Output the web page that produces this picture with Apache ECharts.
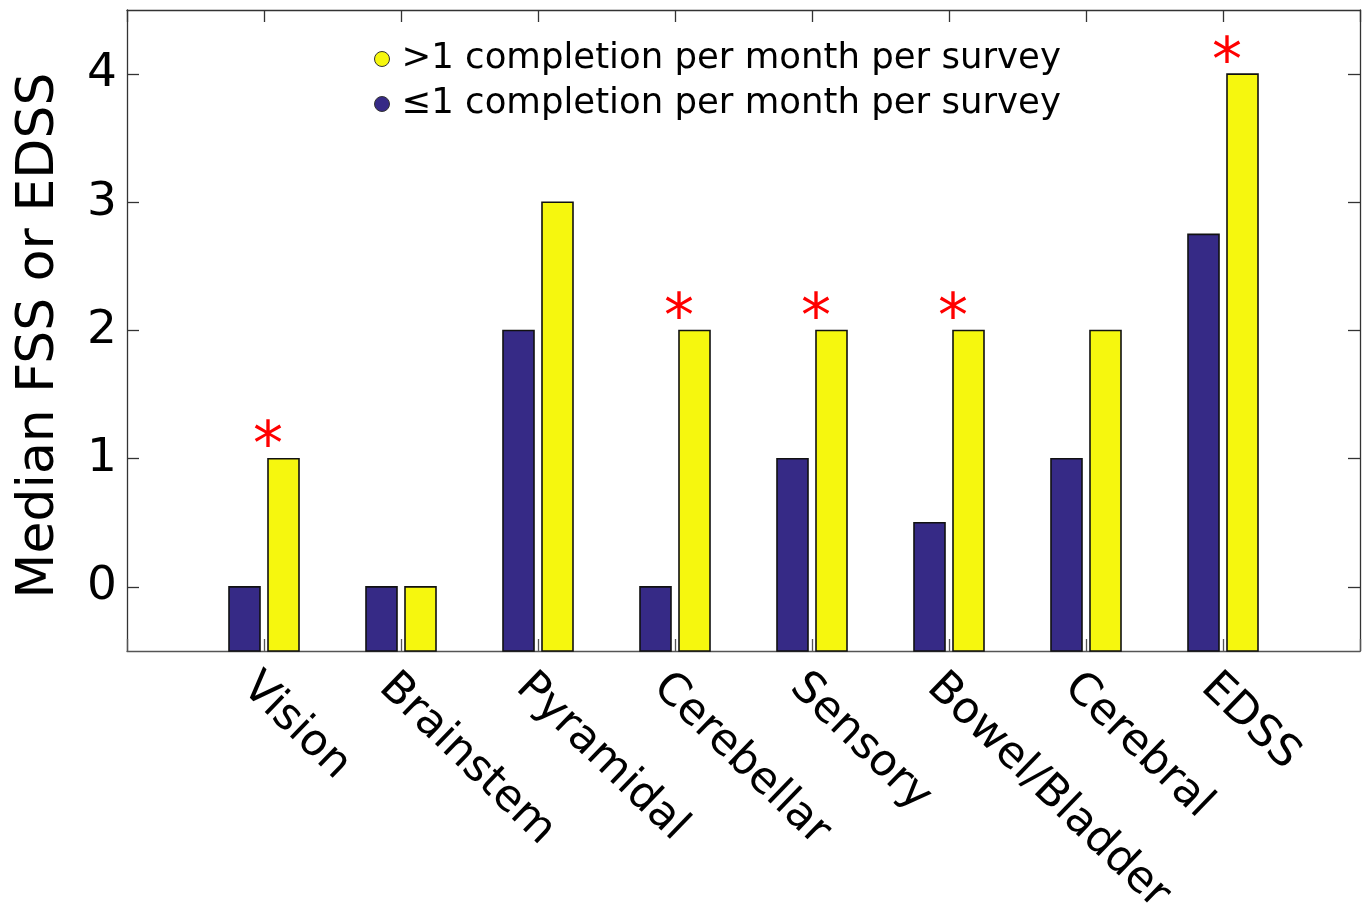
<!DOCTYPE html>
<html><head><meta charset="utf-8">
<script src="https://cdn.jsdelivr.net/npm/echarts@6/dist/echarts.min.js"></script>
<style>html,body{margin:0;padding:0;background:#fff}#c{width:1365px;height:906px}</style>
</head><body><div id="c"></div>
<script>
const categories = ['Vision','Brainstem','Pyramidal','Cerebellar','Sensory','Bowel/Bladder','Cerebral','EDSS'];
const lowValues  = [0, 0, 2, 0, 1, 0.5, 1, 2.75];
const highValues = [1, 0, 3, 2, 2, 2, 2, 4];
const significant = [1, 0, 0, 1, 1, 1, 0, 1];
const yTicks = [0, 1, 2, 3, 4];
const lowName = '≤1 completion per month per survey';
const highName = '>1 completion per month per survey';

const Y_MIN = -0.5, Y_MAX = 4.5;
const BLUE = '#362a86', YELLOW = '#f6f70e';
const FONT = 'DejaVu Sans';
const xCats = [''].concat(categories, ['']);

function barRenderer(side, color) {
  return function (params, api) {
    const x = api.value(0), v = api.value(1);
    const top = api.coord([x, v]);
    const base = api.coord([x, Y_MIN]);
    const cx = top[0];
    const x0 = side < 0 ? cx - 35 : cx + 4;
    return {
      type: 'rect',
      shape: { x: x0, y: top[1], width: 31, height: base[1] - top[1] },
      style: { fill: color, stroke: '#111', lineWidth: 1.6 }
    };
  };
}

const lowData = lowValues.map((v, i) => [i + 1, v]);
const highData = highValues.map((v, i) => [i + 1, v]);
const starData = highValues.map((v, i) => [i + 1, v]).filter((d, i) => significant[i]);

const yAxisBase = {
  type: 'value', min: Y_MIN, max: Y_MAX,
  splitLine: { show: false },
  axisLine: { show: true, onZero: false, lineStyle: { color: '#333', width: 1.3 } },
  axisTick: { show: true, inside: true, length: 12, customValues: yTicks, lineStyle: { color: '#333', width: 1.3 } }
};

const option = {
  animation: false,
  backgroundColor: '#fff',
  grid: { left: 127, right: 5, top: 10, bottom: 255, show: false, containLabel: false, outerBoundsMode: 'none' },
  legend: {
    orient: 'vertical', left: 369, top: 36,
    itemWidth: 15, itemHeight: 15, itemGap: 9, itemTextGap: 22,
    textStyle: { fontFamily: FONT, fontSize: 35.5, color: '#000', padding: [0, 0, 0, 7] },
    data: [
      { name: highName, icon: 'circle', itemStyle: { color: YELLOW, borderColor: '#333', borderWidth: 1 } },
      { name: lowName, icon: 'circle', itemStyle: { color: BLUE, borderColor: '#333', borderWidth: 1 } }
    ]
  },
  xAxis: [
    {
      type: 'category', data: xCats, boundaryGap: false, position: 'bottom',
      axisLine: { show: true, onZero: false, lineStyle: { color: '#555', width: 1.3 } },
      axisTick: { show: true, inside: true, length: 12, interval: 0, lineStyle: { color: '#555', width: 1.3 } },
      axisLabel: { interval: 0, rotate: -44, margin: 14, verticalAlign: 'top', fontFamily: FONT, fontSize: 44, color: '#000' },
      splitLine: { show: false }
    },
    {
      type: 'category', data: xCats, boundaryGap: false, position: 'top',
      axisLine: { show: true, onZero: false, lineStyle: { color: '#333', width: 1.3 } },
      axisTick: { show: true, inside: true, length: 12, interval: 0, lineStyle: { color: '#333', width: 1.3 } },
      axisLabel: { show: false }, splitLine: { show: false }
    }
  ],
  yAxis: [
    Object.assign({}, yAxisBase, {
      position: 'left',
      name: 'Median FSS or EDSS', nameLocation: 'middle', nameGap: 62,
      nameTextStyle: { fontFamily: FONT, fontSize: 52, color: '#000', padding: [0, 10, 0, 0] },
      axisLabel: { show: true, customValues: yTicks, margin: 10, fontFamily: FONT, fontSize: 47, color: '#000' }
    }),
    Object.assign({}, yAxisBase, { position: 'right', axisLabel: { show: false } })
  ],
  series: [
    { name: lowName, type: 'custom', renderItem: barRenderer(-1, BLUE), data: lowData,
      encode: { x: 0, y: 1 }, itemStyle: { color: BLUE } },
    { name: highName, type: 'custom', renderItem: barRenderer(1, YELLOW), data: highData,
      encode: { x: 0, y: 1 }, itemStyle: { color: YELLOW } },
    { name: 'significance', type: 'custom', data: starData, encode: { x: 0, y: 1 },
      renderItem: function (params, api) {
        const p = api.coord([api.value(0), api.value(1)]);
        return {
          type: 'text',
          style: { x: p[0] + 4, y: p[1] - 40, text: '*', fill: '#ff0000',
                   font: '60px "DejaVu Sans"', textAlign: 'center' }
        };
      } }
  ]
};

echarts.init(document.getElementById('c')).setOption(option);
</script>
</body></html>
